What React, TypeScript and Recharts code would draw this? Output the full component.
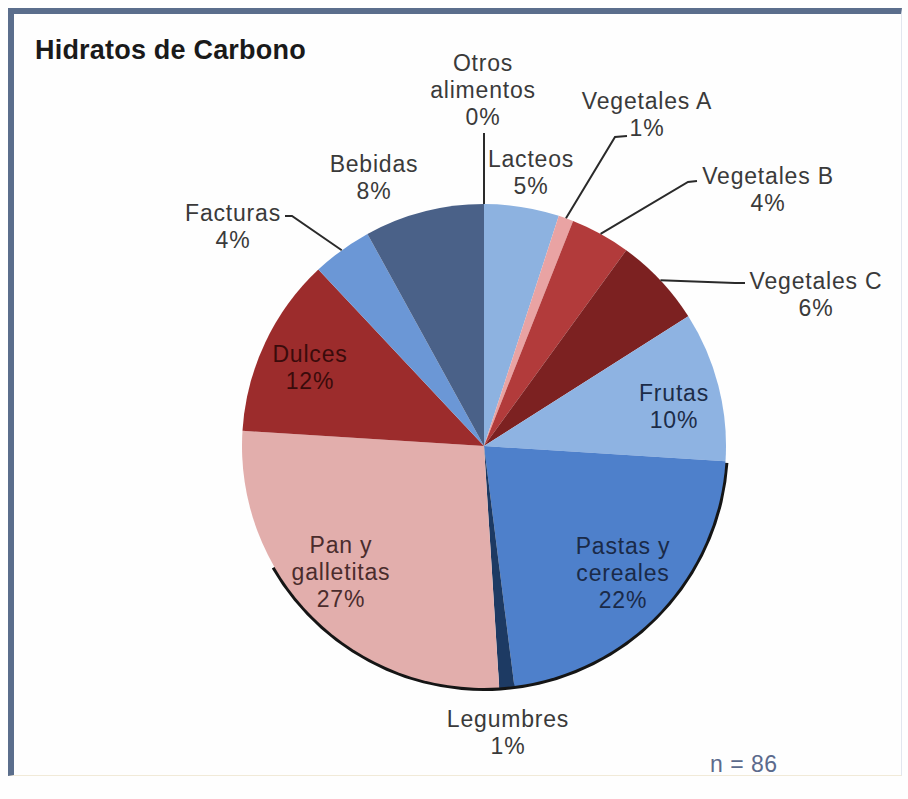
import { PieChart, Pie, Cell } from "recharts";

const categories = [
  "Lacteos",
  "Vegetales A",
  "Vegetales B",
  "Vegetales C",
  "Frutas",
  "Pastas y cereales",
  "Legumbres",
  "Pan y galletitas",
  "Dulces",
  "Facturas",
  "Bebidas",
  "Otros alimentos",
];
const percents = [5, 1, 4, 6, 10, 22, 1, 27, 12, 4, 8, 0];
const rimValue = [1];

const colors = [
  "#8db2e0",
  "#e9a3a3",
  "#b23b3b",
  "#7c2121",
  "#8eb3e2",
  "#4e80cb",
  "#1d3a63",
  "#e2aeac",
  "#9c2c2c",
  "#6b97d6",
  "#4a6188",
  "#9bbbe0",
];

// label text lines, offsets from pie centre, text colour, optional leader elbow
const labelLayout: Record<
  string,
  { lines: string[]; dx: number; dy: number; color: string; elbow?: number[][] }
> = {
  Lacteos: { lines: ["Lacteos"], dx: 47, dy: -274, color: "#3a3a3a" },
  "Vegetales A": {
    lines: ["Vegetales A"],
    dx: 163,
    dy: -332,
    color: "#3a3a3a",
    elbow: [[131, -309], [143, -310]],
  },
  "Vegetales B": {
    lines: ["Vegetales B"],
    dx: 284,
    dy: -257,
    color: "#3a3a3a",
    elbow: [[204, -264], [213, -265]],
  },
  "Vegetales C": {
    lines: ["Vegetales C"],
    dx: 332,
    dy: -152,
    color: "#3a3a3a",
    elbow: [[251, -163], [261, -163]],
  },
  Frutas: { lines: ["Frutas"], dx: 190, dy: -40, color: "#1c2c48" },
  "Pastas y cereales": {
    lines: ["Pastas y", "cereales"],
    dx: 139,
    dy: 127,
    color: "#1a2a48",
  },
  Legumbres: { lines: ["Legumbres"], dx: 24, dy: 286, color: "#3a3a3a" },
  "Pan y galletitas": {
    lines: ["Pan y", "galletitas"],
    dx: -143,
    dy: 126,
    color: "#4a2c2c",
  },
  Dulces: { lines: ["Dulces"], dx: -174, dy: -79, color: "#3a0b0b" },
  Facturas: {
    lines: ["Facturas"],
    dx: -251,
    dy: -220,
    color: "#3a3a3a",
    elbow: [[-192, -230], [-199, -230]],
  },
  Bebidas: { lines: ["Bebidas"], dx: -110, dy: -269, color: "#3a3a3a" },
  "Otros alimentos": {
    lines: ["Otros", "alimentos"],
    dx: -1,
    dy: -356,
    color: "#3a3a3a",
    elbow: [[0, -313]],
  },
};

const data = categories.map((name, i) => ({ name, value: percents[i] }));
const rim = rimValue.map((v) => ({ name: "rim", value: v }));

const RAD = Math.PI / 180;
const LINE_H = 27;

function renderLabel(props: any) {
  const { cx, cy, midAngle, outerRadius, index } = props;
  const name = categories[index];
  const lay = labelLayout[name];
  if (!lay) return null;
  const lines = [...lay.lines, `${percents[index]}%`];
  const x = cx + lay.dx;
  const y0 = cy + lay.dy - ((lines.length - 1) * LINE_H) / 2;
  let leader = null;
  if (lay.elbow) {
    const sx = cx + outerRadius * Math.cos(-midAngle * RAD);
    const sy = cy + outerRadius * Math.sin(-midAngle * RAD);
    const pts = [[sx, sy], ...lay.elbow.map(([ex, ey]) => [cx + ex, cy + ey])];
    leader = (
      <polyline
        points={pts.map((p) => p.join(",")).join(" ")}
        fill="none"
        stroke="#2a2a2a"
        strokeWidth={2}
      />
    );
  }
  return (
    <g key={`lbl-${index}`}>
      {leader}
      <text
        x={x}
        y={y0}
        fill={lay.color}
        fontSize={23}
        fontFamily="'Liberation Sans', Arial, sans-serif"
        textAnchor="middle"
        dominantBaseline="central"
        letterSpacing={0.8}
      >
        {lines.map((l, k) => (
          <tspan key={k} x={x} y={y0 + k * LINE_H}>
            {l}
          </tspan>
        ))}
      </text>
    </g>
  );
}

export default function App() {
  return (
    <div
      style={{
        position: "absolute",
        left: 0,
        top: 0,
        width: 908,
        height: 799,
        background: "#fefefe",
      }}
    >
      <div
        style={{
          position: "absolute",
          left: 8,
          top: 8,
          width: 894,
          height: 768,
          borderLeft: "6px solid #5b6e8c",
          borderTop: "6px solid #5b6e8c",
          borderRight: "1px solid #e2e6ee",
          borderBottom: "1px solid #f1ead8",
          boxSizing: "border-box",
        }}
      />
      <div
        style={{
          position: "absolute",
          left: 35,
          top: 35,
          fontFamily: "'Liberation Sans', Arial, sans-serif",
          fontWeight: "bold",
          fontSize: 27,
          letterSpacing: 0.2,
          color: "#1a1a1a",
          whiteSpace: "nowrap",
        }}
      >
        Hidratos de Carbono
      </div>
      <div
        style={{
          position: "absolute",
          left: 710,
          top: 751,
          fontFamily: "'Liberation Sans', Arial, sans-serif",
          fontSize: 23,
          letterSpacing: 0.5,
          color: "#5b6a8c",
          whiteSpace: "nowrap",
        }}
      >
        n = 86
      </div>
      <PieChart
        width={908}
        height={799}
        margin={{ top: 0, right: 0, bottom: 0, left: 0 }}
        style={{ position: "absolute", left: 0, top: 0 }}
      >
        <Pie
          data={rim}
          dataKey="value"
          cx={484}
          cy={446}
          innerRadius={240}
          outerRadius={245}
          startAngle={-4}
          endAngle={-150}
          stroke="none"
          fill="#151515"
          isAnimationActive={false}
        />
        <Pie
          data={data}
          dataKey="value"
          nameKey="name"
          cx={484}
          cy={446}
          outerRadius={242}
          startAngle={90}
          endAngle={-270}
          stroke="none"
          label={renderLabel}
          labelLine={false}
          isAnimationActive={false}
        >
          {data.map((d, i) => (
            <Cell key={d.name} fill={colors[i]} />
          ))}
        </Pie>
      </PieChart>
    </div>
  );
}
